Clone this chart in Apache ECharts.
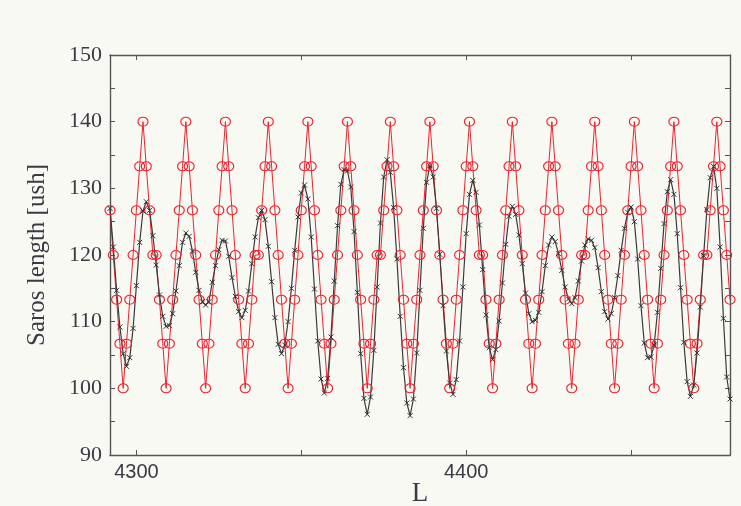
<!DOCTYPE html>
<html>

<head>
    <meta charset="utf-8">
    <title>Saros length</title>
    <style>
        body {
            margin: 0;
            background-color: #f9f9f4;
        }

        #chart {
            width: 741px;
            height: 506px;
        }
    </style>
</head>

<body>
    <div id="chart"></div>
</body>
<script type="text/javascript" src="https://cdn.jsdelivr.net/npm/echarts@6.0.0/dist/echarts.min.js"></script>
<script type="text/javascript">
    // L values (x)
    var lunations = [
        4292, 4293, 4294, 4295, 4296, 4297, 4298, 4299, 4300, 4301,
        4302, 4303, 4304, 4305, 4306, 4307, 4308, 4309, 4310, 4311,
        4312, 4313, 4314, 4315, 4316, 4317, 4318, 4319, 4320, 4321,
        4322, 4323, 4324, 4325, 4326, 4327, 4328, 4329, 4330, 4331,
        4332, 4333, 4334, 4335, 4336, 4337, 4338, 4339, 4340, 4341,
        4342, 4343, 4344, 4345, 4346, 4347, 4348, 4349, 4350, 4351,
        4352, 4353, 4354, 4355, 4356, 4357, 4358, 4359, 4360, 4361,
        4362, 4363, 4364, 4365, 4366, 4367, 4368, 4369, 4370, 4371,
        4372, 4373, 4374, 4375, 4376, 4377, 4378, 4379, 4380, 4381,
        4382, 4383, 4384, 4385, 4386, 4387, 4388, 4389, 4390, 4391,
        4392, 4393, 4394, 4395, 4396, 4397, 4398, 4399, 4400, 4401,
        4402, 4403, 4404, 4405, 4406, 4407, 4408, 4409, 4410, 4411,
        4412, 4413, 4414, 4415, 4416, 4417, 4418, 4419, 4420, 4421,
        4422, 4423, 4424, 4425, 4426, 4427, 4428, 4429, 4430, 4431,
        4432, 4433, 4434, 4435, 4436, 4437, 4438, 4439, 4440, 4441,
        4442, 4443, 4444, 4445, 4446, 4447, 4448, 4449, 4450, 4451,
        4452, 4453, 4454, 4455, 4456, 4457, 4458, 4459, 4460, 4461,
        4462, 4463, 4464, 4465, 4466, 4467, 4468, 4469, 4470, 4471,
        4472, 4473, 4474, 4475, 4476, 4477, 4478, 4479, 4480
    ];

    // red circles
    var sarosStep = [
        126.7, 120, 113.3, 106.7, 100, 106.7, 113.3, 120, 126.7, 133.3,
        140, 133.3, 126.7, 120, 120, 113.3, 106.7, 100, 106.7, 113.3,
        120, 126.7, 133.3, 140, 133.3, 126.7, 120, 113.3, 106.7, 100,
        106.7, 113.3, 120, 126.7, 133.3, 140, 133.3, 126.7, 120, 113.3,
        106.7, 100, 106.7, 113.3, 120, 120, 126.7, 133.3, 140, 133.3,
        126.7, 120, 113.3, 106.7, 100, 106.7, 113.3, 120, 126.7, 133.3,
        140, 133.3, 126.7, 120, 113.3, 106.7, 100, 106.7, 113.3, 120,
        126.7, 133.3, 140, 133.3, 126.7, 120, 113.3, 106.7, 100, 106.7,
        113.3, 120, 120, 126.7, 133.3, 140, 133.3, 126.7, 120, 113.3,
        106.7, 100, 106.7, 113.3, 120, 126.7, 133.3, 140, 133.3, 126.7,
        120, 113.3, 106.7, 100, 106.7, 113.3, 120, 126.7, 133.3, 140,
        133.3, 126.7, 120, 120, 113.3, 106.7, 100, 106.7, 113.3, 120,
        126.7, 133.3, 140, 133.3, 126.7, 120, 113.3, 106.7, 100, 106.7,
        113.3, 120, 126.7, 133.3, 140, 133.3, 126.7, 120, 113.3, 106.7,
        100, 106.7, 113.3, 120, 120, 126.7, 133.3, 140, 133.3, 126.7,
        120, 113.3, 106.7, 100, 106.7, 113.3, 120, 126.7, 133.3, 140,
        133.3, 126.7, 120, 113.3, 106.7, 100, 106.7, 113.3, 120, 126.7,
        133.3, 140, 133.3, 126.7, 120, 113.3, 106.7, 100, 106.7, 113.3,
        120, 120, 126.7, 133.3, 140, 133.3, 126.7, 120, 113.3
    ];

    // black crosses
    var sarosReal = [
        127.0, 121.2, 114.7, 109.2, 105.2, 103.3, 104.6, 109.0, 115.4, 121.9,
        126.6, 128.0, 126.7, 122.9, 118.5, 114.0, 110.8, 109.3, 109.4, 111.2,
        114.6, 118.4, 121.9, 123.3, 122.8, 120.6, 117.4, 114.7, 113.0, 112.5,
        113.0, 115.9, 118.4, 120.8, 122.2, 122.1, 119.8, 116.6, 113.8, 111.5,
        110.6, 111.7, 114.6, 118.7, 122.7, 125.6, 126.7, 125.3, 121.3, 116.0,
        110.6, 106.6, 105.2, 106.5, 110.0, 115.0, 120.7, 125.7, 129.3, 130.5,
        128.4, 122.7, 114.9, 107.1, 101.4, 99.3, 101.5, 107.7, 116.1, 124.4,
        130.6, 132.8, 132.6, 130.2, 123.5, 114.4, 105.2, 98.5, 96.1, 98.7,
        105.7, 115.2, 124.8, 131.7, 134.3, 132.4, 127.1, 119.4, 110.8, 103.1,
        97.8, 95.9, 98.4, 105.3, 114.7, 124.0, 130.9, 133.4, 131.7, 127.0,
        120.1, 112.4, 105.6, 100.8, 99.1, 101.3, 107.1, 115.2, 123.2, 129.1,
        131.2, 129.4, 124.5, 117.8, 111.0, 106.1, 104.3, 105.8, 110.1, 115.8,
        121.6, 125.8, 127.3, 126.1, 123.0, 118.7, 114.3, 111.2, 110.0, 110.2,
        111.4, 114.5, 118.4, 121.5, 122.7, 122.0, 120.2, 117.7, 115.2, 113.4,
        112.7, 113.6, 116.1, 119.1, 121.5, 122.4, 122.2, 121.1, 118.1, 114.5,
        111.5, 110.4, 111.2, 113.6, 116.9, 120.7, 124.0, 126.4, 127.2, 125.0,
        119.4, 112.4, 106.8, 104.6, 104.7, 106.5, 111.4, 118.0, 124.7, 129.5,
        131.3, 129.1, 123.2, 115.1, 106.9, 101.0, 98.8, 100.5, 105.3, 112.2,
        119.9, 126.8, 131.6, 133.3, 130.0, 121.2, 110.5, 101.7, 98.4
    ];

    var xTicks = [4300, 4350, 4400, 4450];
    var xLabels = [4300, 4400];

    function pairs(xs, ys) {
        var out = [];
        for (var i = 0; i < xs.length; i++) {
            out.push([xs[i], ys[i]]);
        }
        return out;
    }

    var myChart = echarts.init(document.getElementById('chart'), null, { renderer: 'canvas' });

    var frame = { show: true, lineStyle: { color: '#555', width: 1.4 } };
    var tickIn = { show: true, inside: true, length: 5, lineStyle: { color: '#555', width: 1 } };

    var option = {
        backgroundColor: '#f9f9f4',
        animation: false,
        grid: { left: 110, right: 11, top: 55, bottom: 51, outerBoundsMode: 'none', containLabel: false },
        xAxis: [
            {
                type: 'value',
                min: 4292,
                max: 4480,
                name: 'L',
                nameLocation: 'middle',
                nameGap: 25,
                nameMoveOverlap: false,
                nameTextStyle: { fontFamily: 'Liberation Serif', fontSize: 27, color: '#3a3a44' },
                axisLine: frame,
                axisTick: { show: true, inside: true, length: 5, customValues: xTicks, lineStyle: { color: '#555' } },
                axisLabel: {
                    customValues: xLabels,
                    formatter: function (v) { return String(v); },
                    margin: 7,
                    fontFamily: 'Liberation Sans',
                    fontSize: 20,
                    color: '#3a3a44'
                },
                splitLine: { show: false }
            },
            {
                type: 'value',
                position: 'top',
                min: 4292,
                max: 4480,
                axisLine: frame,
                axisTick: { show: true, inside: true, length: 5, customValues: xTicks, lineStyle: { color: '#555' } },
                axisLabel: { show: false },
                splitLine: { show: false }
            }
        ],
        yAxis: [
            {
                type: 'value',
                min: 90,
                max: 150,
                interval: 10,
                name: 'Saros length [ush]',
                nameLocation: 'middle',
                nameGap: 60,
                nameMoveOverlap: false,
                nameTextStyle: { fontFamily: 'Liberation Serif', fontSize: 25, color: '#3a3a44' },
                axisLine: frame,
                axisTick: tickIn,
                minorTick: { show: true, splitNumber: 2, length: 5, lineStyle: { color: '#555' } },
                axisLabel: {
                    margin: 8,
                    fontFamily: 'Liberation Serif',
                    fontSize: 22,
                    color: '#3a3a44'
                },
                splitLine: { show: false }
            },
            {
                type: 'value',
                position: 'right',
                min: 90,
                max: 150,
                interval: 10,
                axisLine: frame,
                axisTick: tickIn,
                minorTick: { show: true, splitNumber: 2, length: 5, lineStyle: { color: '#555' } },
                axisLabel: { show: false },
                splitLine: { show: false }
            }
        ],
        series: [
            {
                name: 'step',
                type: 'line',
                data: pairs(lunations, sarosStep),
                symbol: 'circle',
                symbolSize: [10, 9],
                showAllSymbol: true,
                lineStyle: { color: '#f2202c', width: 1 },
                itemStyle: { color: 'rgba(0,0,0,0)', borderColor: '#f2202c', borderWidth: 1.1 }
            },
            {
                name: 'real',
                type: 'line',
                data: pairs(lunations, sarosReal),
                symbol: 'path://M0,0L10,10M10,0L0,10',
                symbolSize: 5,
                showAllSymbol: true,
                lineStyle: { color: '#3a3a3a', width: 1.2 },
                itemStyle: { color: 'rgba(0,0,0,0)', borderColor: '#333', borderWidth: 1 }
            }
        ]
    };

    myChart.setOption(option);
</script>

</html>
